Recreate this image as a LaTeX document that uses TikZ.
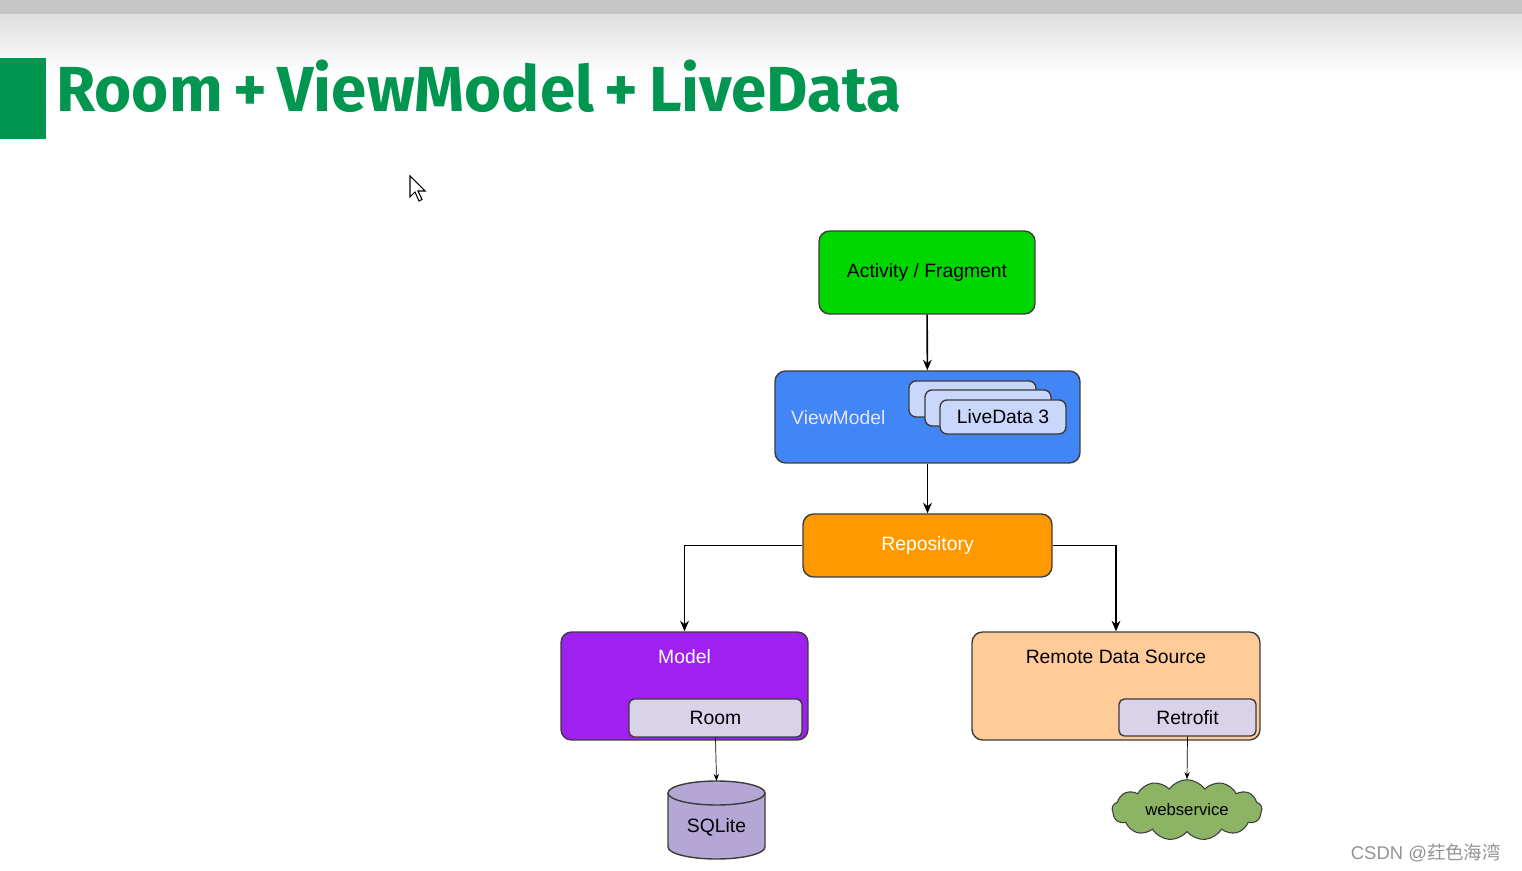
\documentclass[tikz,border=0pt]{standalone}
\usepackage{fontspec}
\setmainfont{Liberation Sans}
\newfontfamily\titlef{Fira Sans}
\newfontfamily\cjk{Noto Sans CJK SC}
\usetikzlibrary{shapes.geometric,shapes.symbols,arrows.meta}
\definecolor{tgreen}{RGB}{0,150,80}
\definecolor{afg}{RGB}{0,214,0}
\definecolor{vmb}{RGB}{66,133,244}
\definecolor{ldb}{RGB}{200,215,250}
\definecolor{repo}{RGB}{255,153,0}
\definecolor{mpur}{RGB}{160,32,240}
\definecolor{lav}{RGB}{217,210,233}
\definecolor{peach}{RGB}{255,204,153}
\definecolor{sql}{RGB}{180,167,214}
\definecolor{cloudg}{RGB}{140,180,100}
\definecolor{bord}{RGB}{60,60,60}
\tikzset{
 box/.style={draw=bord,line width=0.8pt,rounded corners=6pt,inner sep=0pt},
 arr/.style={-{Stealth[length=6pt,width=5pt]},line width=0.9pt,black},
 thin/.style={-{Stealth[length=4pt,width=3pt]},line width=0.4pt,black},
 lbl/.style={font=\fontsize{11}{13}\selectfont},
}
\begin{document}
\begin{tikzpicture}[x=0.02cm,y=-0.02cm]
\useasboundingbox (0,0) rectangle (1522,871);
\fill[white] (0,0) rectangle (1522,871);
\shade[top color=gray!25,bottom color=white] (0,14) rectangle (1522,75);
\fill[gray!45] (0,0) rectangle (1522,14);
\fill[tgreen] (0,58) rectangle (46,139);
\node[anchor=base west,text=tgreen,inner sep=0pt] (title) at (56,112)
 {\resizebox{16.9cm}{!}{\titlef\bfseries\fontsize{40}{44}\selectfont Room\,+\,ViewModel\,+\,LiveData}};
\draw[fill=white,line width=0.6pt] (410,176) -- (410,197) -- (415,192) -- (419,201) -- (422,199.5) -- (418,191) -- (425,191) -- cycle;
% nodes
\node[box,fill=afg,minimum width=4.32cm,minimum height=1.66cm,lbl] (af) at (927,272.5) {Activity / Fragment};
\node[box,fill=vmb,minimum width=6.1cm,minimum height=1.84cm] (vm) at (927.5,417) {};
\node[text=white!90!blue,lbl,anchor=west] (vml) at (785,418) {ViewModel};
\node[box,fill=ldb,rounded corners=4pt,minimum width=2.54cm,minimum height=0.72cm] (ld1) at (972.5,399) {};
\node[box,fill=ldb,rounded corners=4pt,minimum width=2.52cm,minimum height=0.72cm] (ld2) at (988,408) {};
\node[box,fill=ldb,rounded corners=4pt,minimum width=2.52cm,minimum height=0.68cm,lbl] (ld3) at (1003,417) {LiveData 3};
\node[box,fill=repo,minimum width=4.98cm,minimum height=1.26cm,lbl,text=white] (repo) at (927.5,545.5) {Repository};
\node[box,fill=mpur,minimum width=4.94cm,minimum height=2.16cm] (model) at (684.5,686) {};
\node[lbl,text=white] (ml) at (684.5,657) {Model};
\node[box,fill=lav,rounded corners=3pt,minimum width=3.46cm,minimum height=0.76cm,lbl] (room) at (715.5,718) {Room};
\node[box,fill=peach,minimum width=5.76cm,minimum height=2.16cm] (rds) at (1116,686) {};
\node[lbl] (rl) at (1116,657) {Remote Data Source};
\node[box,fill=lav,rounded corners=3pt,minimum width=2.74cm,minimum height=0.74cm,lbl] (retro) at (1187.5,717.5) {Retrofit};
% SQLite cylinder
\draw[draw=bord,line width=0.8pt,fill=sql] (668,793) -- (668,847) arc[start angle=180,end angle=360,x radius=48.5,y radius=-12] -- (765,793);
\draw[draw=bord,line width=0.8pt,fill=sql] (716.5,793) ellipse [x radius=48.5,y radius=12];
\coordinate (sqtop) at (716.5,781);
\node[lbl] (sq) at (716.5,827) {SQLite};
\node[cloud,cloud puffs=13,cloud puff arc=110,aspect=2.5,draw=bord,line width=0.6pt,fill=cloudg,minimum width=3.0cm,minimum height=1.2cm,font=\fontsize{9.5}{11}\selectfont,inner sep=0pt] (web) at (1187,810) {webservice};
\node[text=gray!85,font=\fontsize{10.5}{12}\selectfont,anchor=east] (wm) at (1507,853) {CSDN @{\cjk 荭色海湾}};
% connectors
\draw[arr] (af) -- (vm);
\draw[arr] (vm) -- (repo);
\draw[arr] (repo.west) -| (model.north);
\draw[arr] (repo.east) -| (rds.north);
\draw[thin] (room.south) -- (sqtop);
\draw[thin] (retro.south) -- (web.north);
\end{tikzpicture}
\end{document}
